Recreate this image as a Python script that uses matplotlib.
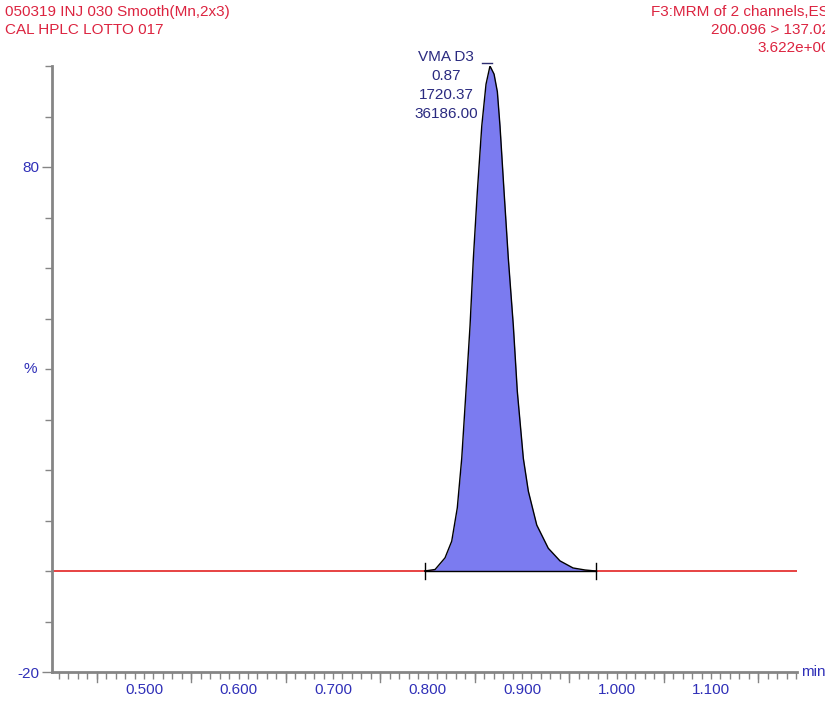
import matplotlib
matplotlib.use("Agg")
import matplotlib.pyplot as plt
from matplotlib.ticker import MultipleLocator, FixedLocator, FuncFormatter

plt.rcParams['font.family'] = ['Liberation Sans', 'DejaVu Sans']
plt.rcParams['axes.unicode_minus'] = False

# Data
time_min = [0.797, 0.808, 0.8185, 0.8256, 0.8315, 0.8362, 0.8407, 0.8450, 0.8485,
            0.8527, 0.8574, 0.8619, 0.8661, 0.8704, 0.8739, 0.8767, 0.8810, 0.8855,
            0.8908, 0.8950, 0.9014, 0.9067, 0.9156, 0.9278, 0.9402, 0.9540, 0.9667,
            0.978]
intensity_pct = [0.0, 0.3, 2.6, 5.9, 12.5, 22.3, 35.6, 48.6, 61.9,
                 75.1, 88.1, 96.4, 100.0, 98.4, 94.9, 88.1, 75.1, 61.9,
                 48.6, 35.6, 22.3, 15.8, 9.1, 4.5, 2.0, 0.6, 0.2,
                 0.0]
peak_start, peak_end = 0.797, 0.978
peak_rt = 0.866
peak_labels = ["VMA D3", "0.87", "1720.37", "36186.00"]
x_tick_labels = ["0.500", "0.600", "0.700", "0.800", "0.900", "1.000", "1.100"]
x_tick_values = [0.5, 0.6, 0.7, 0.8, 0.9, 1.0, 1.1]
y_tick_labels = ["80", "-20"]
y_tick_values = [80, -20]
x_range = (0.4026, 1.191)
y_range = (-20, 100)

header_left = ["050319 INJ 030 Smooth(Mn,2x3)", "CAL HPLC LOTTO 017"]
header_right = ["F3:MRM of 2 channels,ES+", "200.096 > 137.024", "3.622e+004"]

red = '#dc2440'
blue_txt = '#3030b8'
axis_gray = '#858585'
fs = 11

fig = plt.figure(figsize=(8.25, 7.02), dpi=100)
ax = fig.add_axes([52/825, 1-672/702, (797-52)/825, (672-66)/702])
ax.set_xlim(*x_range)
ax.set_ylim(*y_range)

# baseline trace
ax.plot(list(x_range), [0, 0], color='#e01010', lw=1.1, zorder=2)
ax.fill_between(time_min, intensity_pct, 0, color='#7b7bf0', lw=0, zorder=3)
ax.plot(time_min, intensity_pct, color='black', lw=1.0, zorder=4)
ax.plot([peak_start, peak_end], [0, 0], color='black', lw=1.0, zorder=4)
for xv in (peak_start, peak_end):
    ax.plot([xv, xv], [-1.6, 1.6], color='black', lw=1.0, zorder=5, clip_on=False)
ax.plot([peak_rt - 0.008, peak_rt + 0.002], [100.6, 100.6], color='#2d2d70', lw=1.0, zorder=5, clip_on=False)

# peak annotation
for i, s in enumerate(peak_labels):
    ax.text(0.8196, 101.7 - i * 3.75, s, ha='center', va='center', fontsize=fs,
            color='#2a2a80', clip_on=False)

for s in ['top', 'right']:
    ax.spines[s].set_visible(False)
for s in ['left', 'bottom']:
    ax.spines[s].set_color(axis_gray)
    ax.spines[s].set_linewidth(2)

ax.xaxis.set_major_locator(FixedLocator(x_tick_values))
ax.xaxis.set_major_formatter(FuncFormatter(
    lambda v, p: x_tick_labels[x_tick_values.index(round(v, 3))] if round(v, 3) in x_tick_values else ""))
ax.xaxis.set_minor_locator(MultipleLocator(0.01))
ax.tick_params(axis='x', which='major', length=5, width=1, color=axis_gray,
               labelcolor=blue_txt, labelsize=fs, pad=3, direction='out')
ax.tick_params(axis='x', which='minor', length=5, width=1, color=axis_gray, direction='out')
# longer ticks at the .x5 positions
for v in [0.45, 0.55, 0.65, 0.75, 0.85, 0.95, 1.05, 1.15]:
    ax.plot([v, v], [-20, -22.0], color=axis_gray, lw=1, clip_on=False, zorder=1)

ax.yaxis.set_major_locator(FixedLocator(y_tick_values))
ax.yaxis.set_major_formatter(FuncFormatter(
    lambda v, p: y_tick_labels[y_tick_values.index(int(round(v)))] if int(round(v)) in y_tick_values else ""))
ax.yaxis.set_minor_locator(MultipleLocator(10))
ax.tick_params(axis='y', which='major', length=7, width=1, color=axis_gray,
               labelcolor=blue_txt, labelsize=fs, pad=2)
ax.tick_params(axis='y', which='minor', length=5, width=1, color=axis_gray)
ax.text(-0.02, 40, "%", transform=ax.get_yaxis_transform(), ha='right', va='center',
        fontsize=fs, color=blue_txt)
ax.text(1.006, -20, "min", transform=ax.get_yaxis_transform(), ha='left', va='center',
        fontsize=fs, color=blue_txt, clip_on=False)

# headers
for i, s in enumerate(header_left):
    fig.text(5/825, 1 - (12 + i*18)/702, s, ha='left', va='center', fontsize=fs, color=red)
for i, s in enumerate(header_right):
    fig.text(838/825, 1 - (12 + i*18)/702, s, ha='right', va='center', fontsize=fs, color=red)

fig.savefig("out.png", dpi=100)
